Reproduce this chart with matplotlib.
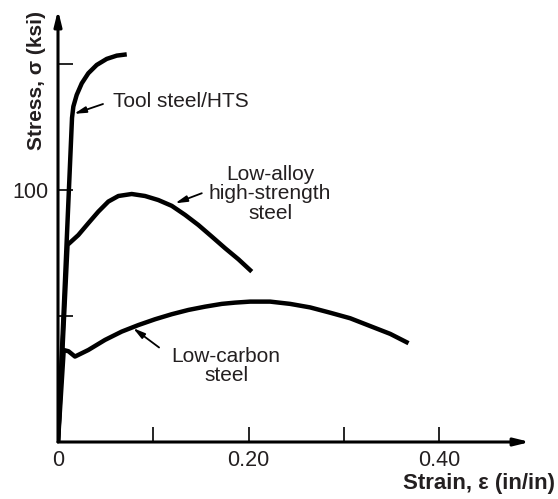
import matplotlib
matplotlib.use("Agg")
import matplotlib.pyplot as plt

plt.rcParams['font.family'] = ['Liberation Sans', 'DejaVu Sans']

# strain (in/in) and stress (ksi)
tool_strain = [0, 0.0147, 0.0161, 0.0196, 0.0249, 0.0318, 0.0406, 0.0511, 0.0616, 0.0721]
tool_stress = [0, 128.6, 133.1, 137.7, 142.3, 146.3, 149.6, 152.0, 153.3, 153.8]

alloy_strain = [0, 0.0100, 0.0213, 0.0318, 0.0423, 0.0528, 0.0633, 0.0773, 0.0913, 0.1052,
                0.1193, 0.1333, 0.1472, 0.1613, 0.1752, 0.1892, 0.2032]
alloy_stress = [0, 78.2, 82.1, 86.8, 91.4, 95.4, 97.6, 98.4, 97.6, 96.0,
                93.7, 90.1, 86.1, 81.5, 76.9, 72.5, 67.6]

carbon_strain = [0, 0.0060, 0.0110, 0.0178, 0.0318, 0.0493, 0.0668, 0.0843, 0.1018, 0.1193,
                 0.1368, 0.1543, 0.1718, 0.1857, 0.2015, 0.2225, 0.2434, 0.2644, 0.2854,
                 0.3064, 0.3274, 0.3484, 0.3676]
carbon_stress = [0, 36.5, 36.0, 33.9, 36.5, 40.5, 43.8, 46.4, 48.7, 50.7,
                 52.4, 53.7, 54.8, 55.3, 55.7, 55.7, 54.8, 53.4, 51.3,
                 49.1, 46.0, 42.9, 39.2]

x_ticks = [0, 0.1, 0.2, 0.3, 0.4]
x_labels = ['0', '', '0.20', '', '0.40']
y_ticks = [50, 100, 150]
y_labels = ['', '100', '']

txt = '#231f20'
fig = plt.figure(figsize=(5.58, 4.99), dpi=100)
ax = fig.add_axes([58/558, 57/499, 472/558, 432/499])
xmax, ymax = 0.495, 171.4

ax.plot(tool_strain, tool_stress, color='black', lw=3.2, solid_capstyle='butt')
ax.plot(alloy_strain, alloy_stress, color='black', lw=3.2, solid_capstyle='butt')
ax.plot(carbon_strain, carbon_stress, color='black', lw=3.2, solid_capstyle='butt')

ax.set_xlim(0, xmax)
ax.set_ylim(0, ymax)
for s in ax.spines.values():
    s.set_visible(False)

# axes drawn as arrows
ax.annotate('', xy=(xmax, 0), xytext=(0, 0), annotation_clip=False,
            arrowprops=dict(arrowstyle='-|>,head_length=0.9,head_width=0.22', lw=2.2,
                            color='black', shrinkA=0, shrinkB=0))
ax.annotate('', xy=(0, ymax), xytext=(0, 0), annotation_clip=False,
            arrowprops=dict(arrowstyle='-|>,head_length=0.9,head_width=0.22', lw=2.2,
                            color='black', shrinkA=0, shrinkB=0))

ax.set_xticks(x_ticks)
ax.set_xticklabels(x_labels)
ax.set_yticks(y_ticks)
ax.set_yticklabels(y_labels)
ax.tick_params(axis='x', direction='in', length=11, width=1.2, pad=6, labelsize=15.5, labelcolor=txt)
ax.tick_params(axis='y', direction='in', length=11, width=1.2, pad=7, labelsize=15.5, labelcolor=txt)

# curve labels with pointer arrows
arrow = dict(arrowstyle='-|>,head_length=0.7,head_width=0.18', lw=1.3, color='black',
             shrinkA=0, shrinkB=0)
ax.text(0.0577, 135.1, 'Tool steel/HTS', fontsize=15, color=txt, ha='left', va='center')
ax.annotate('', xy=(0.0168, 130.2), xytext=(0.0472, 134.1), arrowprops=arrow)

ax.text(0.2225, 98.4, 'Low-alloy\nhigh-strength\nsteel', fontsize=15, color=txt,
        ha='center', va='center', multialignment='center', linespacing=1.02)
ax.annotate('', xy=(0.1228, 94.7), xytext=(0.1508, 98.7), arrowprops=arrow)

ax.text(0.1763, 30.2, 'Low-carbon\nsteel', fontsize=15, color=txt,
        ha='center', va='center', multialignment='center', linespacing=1.02)
ax.annotate('', xy=(0.0787, 45.2), xytext=(0.106, 37.5), arrowprops=arrow)

# axis titles
fig.text(37/558, 1 - 81/499, 'Stress, σ (ksi)', rotation=90, fontsize=15,
         fontweight='bold', color=txt, ha='center', va='center')
fig.text(555/558, 1 - 484/499, 'Strain, ε (in/in)', fontsize=16,
         fontweight='bold', color=txt, ha='right', va='center')

fig.savefig('out.png', dpi=100)
